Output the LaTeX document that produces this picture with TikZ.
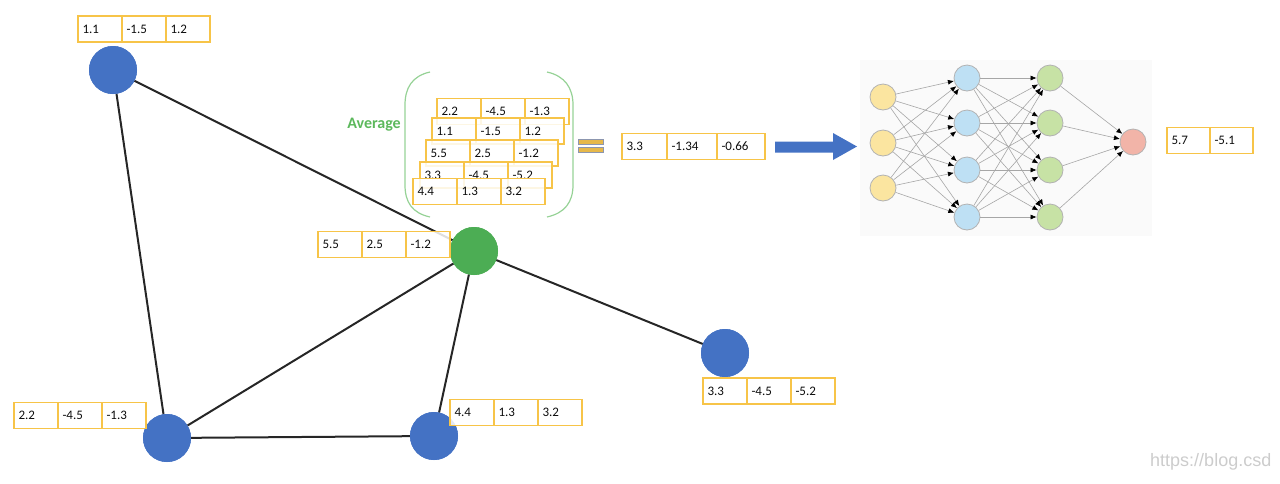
\documentclass[tikz,border=0pt]{standalone}
\usepackage{fontspec}
\setmainfont{Carlito}
\newfontfamily\wmfont{Liberation Sans}
\usetikzlibrary{arrows.meta}
\definecolor{boxgold}{RGB}{247,196,72}
\definecolor{nodeblue}{RGB}{68,114,196}
\definecolor{nodegreen}{RGB}{76,173,84}
\definecolor{avggreen}{RGB}{92,184,92}
\definecolor{parengreen}{RGB}{150,210,150}
\definecolor{nnyellow}{RGB}{251,229,160}
\definecolor{nnblue}{RGB}{190,224,244}
\definecolor{nngreen}{RGB}{199,226,165}
\definecolor{nnred}{RGB}{242,180,168}
\definecolor{eqgold}{RGB}{230,184,74}
\definecolor{eqedge}{RGB}{140,150,175}
\newcommand\cellrow[5]{%
  \node[cell] (#1a) at #2 {#3};
  \node[cell] (#1b) at (#1a.east) {#4};
  \node[cell] (#1c) at (#1b.east) {#5};
}
\begin{document}
\begin{tikzpicture}[x=1pt,y=-1pt,
  cell/.style={draw=boxgold, line width=1.5pt, fill=white, fill opacity=0.85, text opacity=1,
    minimum height=26pt, text width=35pt, inner xsep=4.5pt, inner ysep=0pt, outer sep=0pt,
    align=left, anchor=west, font=\fontsize{13}{13}\selectfont, text=black!95},
  gnode/.style={circle, minimum size=48pt, inner sep=0pt, outer sep=0pt},
  edge/.style={line width=2pt, draw=black!85},
  nnode/.style={circle, minimum size=26pt, inner sep=0pt, draw=gray!60, line width=0.8pt},
  nnedge/.style={draw=gray!70, line width=0.6pt, -{Latex[length=6pt,width=5pt,color=black]}},
  paren/.style={draw=parengreen, line width=1.2pt}
]
\useasboundingbox (0,0) rectangle (1280,483);

% graph nodes
\node[gnode, fill=nodeblue] (A) at (113,70) {};
\node[gnode, fill=nodegreen] (G) at (474,251) {};
\node[gnode, fill=nodeblue] (E) at (725,353) {};
\node[gnode, fill=nodeblue] (B) at (167,438) {};
\node[gnode, fill=nodeblue] (C) at (434,436) {};

% graph edges
\draw[edge] (A) -- (B);
\draw[edge] (A) -- (G);
\draw[edge] (G) -- (E);
\draw[edge] (B) -- (G);
\draw[edge] (C) -- (G);
\draw[edge] (B) -- (C);

% redraw circles on top of edges
\node[gnode, fill=nodeblue] at (A) {};
\node[gnode, fill=nodegreen] at (G) {};
\node[gnode, fill=nodeblue] at (E) {};
\node[gnode, fill=nodeblue] at (B) {};
\node[gnode, fill=nodeblue] at (C) {};

% node labels
\cellrow{la}{(78,29)}{1.1}{-1.5}{1.2}
\cellrow{lg}{(318,244.5)}{5.5}{2.5}{-1.2}
\cellrow{le}{(703,391)}{3.3}{-4.5}{-5.2}
\cellrow{lb}{(14,415.5)}{2.2}{-4.5}{-1.3}
\cellrow{lc}{(450,412.5)}{4.4}{1.3}{3.2}

% average bracket
\draw[paren] (430,72) .. controls (412,76) and (405,88) .. (405,105) -- (405,185)
  .. controls (405,202) and (412,213) .. (430,217);
\draw[paren] (547,72) .. controls (565,76) and (573,88) .. (573,105) -- (573,185)
  .. controls (573,202) and (565,213) .. (547,217);
\node[font=\bfseries\fontsize{16}{16}\selectfont, text=avggreen, anchor=east, inner sep=0pt] (avg) at (401,125) {Average};

\cellrow{sa}{(437,111.5)}{2.2}{-4.5}{-1.3}
\cellrow{sb}{(432,131)}{1.1}{-1.5}{1.2}
\cellrow{sc}{(426,153)}{5.5}{2.5}{-1.2}
\cellrow{sd}{(420,175)}{3.3}{-4.5}{-5.2}
\cellrow{se}{(413,191.5)}{4.4}{1.3}{3.2}

% equals sign
\draw[fill=eqgold, draw=eqedge, line width=0.6pt] (578,139) rectangle (603,144);
\draw[fill=eqgold, draw=eqedge, line width=0.6pt] (578,147.5) rectangle (603,152.5);

% result
\node[cell, text width=36pt] (ra) at (622,146.5) {3.3};
\node[cell, text width=41pt] (rb) at (ra.east) {-1.34};
\node[cell, text width=39pt] (rc) at (rb.east) {-0.66};

% block arrow
\fill[nodeblue] (775,141.5) -- (833,141.5) -- (833,133) -- (857,146.5) -- (833,160) -- (833,152.5) -- (775,152.5) -- cycle;

% neural net
\fill[black!2] (860,60) rectangle (1152,236);
\foreach \i/\y in {1/97,2/143,3/188} \node[nnode, fill=nnyellow] (y\i) at (883,\y) {};
\foreach \i/\y in {1/78,2/123,3/170,4/217} \node[nnode, fill=nnblue] (h\i) at (967,\y) {};
\foreach \i/\y in {1/78,2/123,3/170,4/217} \node[nnode, fill=nngreen] (g\i) at (1050,\y) {};
\node[nnode, fill=nnred] (o) at (1133,142) {};
\foreach \i in {1,2,3} \foreach \j in {1,2,3,4} \draw[nnedge] (y\i) -- (h\j);
\foreach \i in {1,2,3,4} \foreach \j in {1,2,3,4} \draw[nnedge] (h\i) -- (g\j);
\foreach \i in {1,2,3,4} \draw[nnedge] (g\i) -- (o);

\node[cell, text width=34pt] (oa) at (1167,140.5) {5.7};
\node[cell, text width=34pt] (ob) at (oa.east) {-5.1};

% watermark
\node[font=\wmfont\fontsize{18}{18}\selectfont, text=black!20, anchor=base west, inner sep=0pt] (wm) at (1150,466) {https://blog.csd};
\end{tikzpicture}
\end{document}
